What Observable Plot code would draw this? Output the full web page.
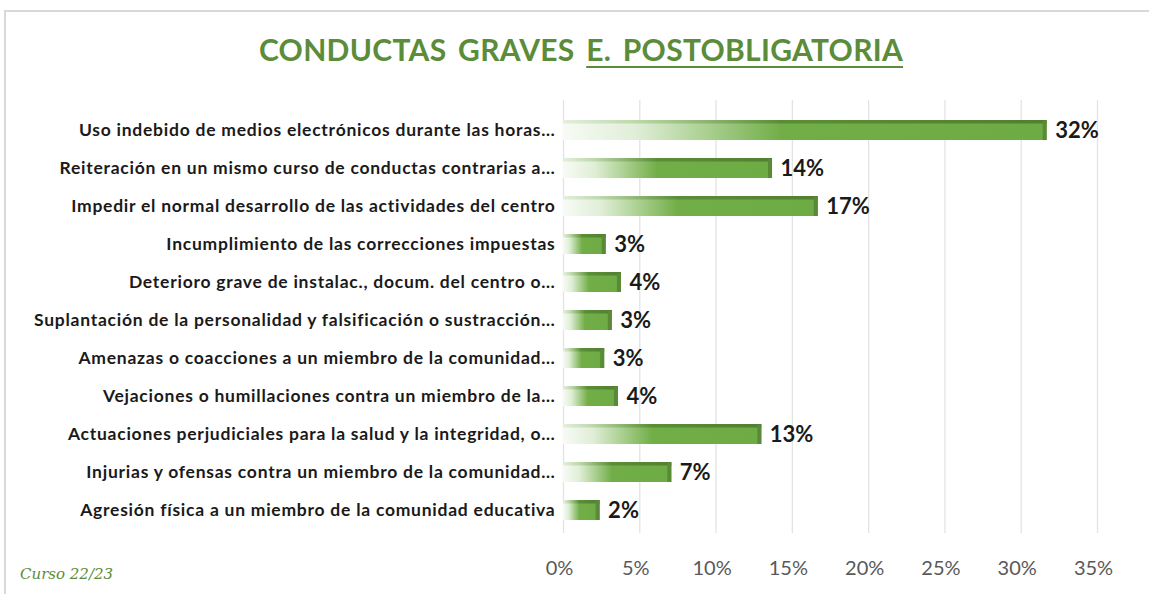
<!DOCTYPE html>
<html>
<head>
<meta charset="utf-8">
<script src="https://cdn.jsdelivr.net/npm/d3@7"></script>
<script src="https://cdn.jsdelivr.net/npm/@observablehq/plot@0.6"></script>
<style>
  html, body { margin: 0; padding: 0; background: #fff; }
  #wrap { position: relative; width: 1149px; height: 594px; overflow: hidden; font-family: Lato, "Open Sans", sans-serif; }
  #frame { position: absolute; left: 4px; top: 10px; right: -4px; bottom: -4px; border-top: 2px solid #d9d9d9; border-left: 2px solid #d9d9d9; }
  #title { position: absolute; top: 31px; left: 0; width: 1162px; text-align: center; font-size: 30px; font-weight: 700; color: #5b8c3a; letter-spacing: 0.3px; word-spacing: 4px; }
  #title u { text-decoration-thickness: 2px; text-underline-offset: 5px; }
  #chart { position: absolute; top: 85px; left: 0; }
  #chart svg g[aria-label="y-axis tick label"] text { letter-spacing: 0.75px; }
  #caption { position: absolute; left: 20px; top: 565px; font-family: "DejaVu Serif", serif; font-style: italic; font-size: 15px; color: #5b8c3a; }
</style>
</head>
<body>
<div id="wrap">
  <div id="frame"></div>
  <div id="title">CONDUCTAS GRAVES <u>E. POSTOBLIGATORIA</u></div>
  <div id="chart"></div>
  <div id="caption">Curso 22/23</div>
</div>
<script>
const categories = [
  "Uso indebido de medios electrónicos durante las horas…",
  "Reiteración en un mismo curso de conductas contrarias a…",
  "Impedir el normal desarrollo de las actividades del centro",
  "Incumplimiento de las correcciones impuestas",
  "Deterioro grave de instalac., docum. del centro o…",
  "Suplantación de la personalidad y falsificación o sustracción…",
  "Amenazas o coacciones a un miembro de la comunidad…",
  "Vejaciones o humillaciones contra un miembro de la…",
  "Actuaciones perjudiciales para la salud y la integridad, o…",
  "Injurias y ofensas contra un miembro de la comunidad…",
  "Agresión física a un miembro de la comunidad educativa"
];
const values = [0.317, 0.137, 0.167, 0.028, 0.038, 0.032, 0.027, 0.036, 0.130, 0.071, 0.024];
const xTicks = [0, 0.05, 0.10, 0.15, 0.20, 0.25, 0.30, 0.35];

const data = categories.map((c, i) => ({category: c, value: values[i]}));
const pct = d3.format(".0%");

const chart = Plot.plot({
  width: 1149,
  height: 509,
  marginLeft: 563,
  marginRight: 52,
  marginTop: 15,
  marginBottom: 61,
  style: {fontFamily: "Lato, 'Open Sans', sans-serif", background: "transparent", overflow: "visible"},
  x: {domain: [0, 0.35], ticks: xTicks},
  y: {domain: categories, range: [15, 455], padding: 0.48},
  marks: [
    Plot.gridX(xTicks, {stroke: "#e3e3e3", strokeOpacity: 1, strokeWidth: 1.3}),
    Plot.axisX(xTicks, {tickSize: 0, tickPadding: 27, tickFormat: pct, fontSize: 20, fill: "#595959", dx: -4, label: null}),
    Plot.axisY({tickSize: 0, tickPadding: 8, fontSize: 17.5, fontWeight: "bold", fill: "#1a1a1a", label: null}),
    Plot.barX(data, {x: "value", y: "category", fill: "url(#barGrad)"}),
    Plot.barX(data, {x: "value", y: "category", fill: "url(#topGrad)", insetBottom: 16.5}),
    Plot.barX(data, {x1: "value", x2: "value", y: "category", fill: "#5a8a38", insetLeft: -4, insetTop: 1}),
    Plot.text(data, {x: "value", y: "category", text: d => pct(d.value), dx: 8, textAnchor: "start", fontSize: 22, fontWeight: "bold", fill: "#1a1a1a"})
  ]
});

const ns = "http://www.w3.org/2000/svg";
const defs = document.createElementNS(ns, "defs");
function grad(id, stops) {
  const g = document.createElementNS(ns, "linearGradient");
  g.setAttribute("id", id);
  g.setAttribute("x1", "0"); g.setAttribute("x2", "1");
  g.setAttribute("y1", "0"); g.setAttribute("y2", "0");
  for (const [o, c] of stops) {
    const s = document.createElementNS(ns, "stop");
    s.setAttribute("offset", o);
    s.setAttribute("stop-color", c);
    g.appendChild(s);
  }
  defs.appendChild(g);
}
grad("barGrad", [[0, "#f7fbf5"], [0.15, "#e0eed7"], [0.3, "#a9cf8f"], [0.45, "#72ae48"], [1, "#6dab44"]]);
grad("topGrad", [[0, "#e4efdc"], [0.15, "#bdd8aa"], [0.45, "#5a8e36"], [1, "#527f31"]]);
chart.insertBefore(defs, chart.firstChild);

document.getElementById("chart").appendChild(chart);

// letter spacing on y tick labels (Calibri-like width)
chart.querySelectorAll('g[aria-label="y-axis tick label"] text').forEach(t => t.setAttribute("letter-spacing", "0.75"));
</script>
</body>
</html>
